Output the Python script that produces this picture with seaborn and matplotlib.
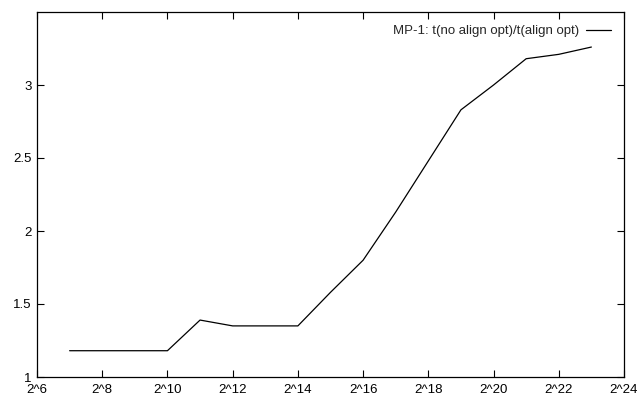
import numpy as np
import pandas as pd
import matplotlib
matplotlib.use("Agg")
import matplotlib.pyplot as plt
import seaborn as sns

# data (x = 2^exponent)
exponents = [7, 8, 9, 10, 11, 12, 13, 14, 15, 16, 17, 18, 19, 20, 21, 22, 23]
ratio = [1.18, 1.18, 1.18, 1.18, 1.39, 1.35, 1.35, 1.35, 1.58, 1.80, 2.13, 2.48, 2.83, 3.00, 3.18, 3.21, 3.26]
xtick_exps = [6, 8, 10, 12, 14, 16, 18, 20, 22, 24]
ytick_vals = [1, 1.5, 2, 2.5, 3]
label = "MP-1: t(no align opt)/t(align opt)"

df = pd.DataFrame({"size": [2.0 ** e for e in exponents], "ratio": ratio})

sns.set_style("ticks")
plt.rcParams["font.family"] = ["Liberation Sans", "DejaVu Sans"]
plt.rcParams["font.size"] = 9.5

fig = plt.figure(figsize=(6.37, 3.96), dpi=100)
ax = fig.add_axes([37 / 637, 19 / 396, 587 / 637, 365 / 396])

sns.lineplot(data=df, x="size", y="ratio", ax=ax, color="black", linewidth=0.9, label=label)

ax.set_xscale("log", base=2)
ax.set_xlim(2.0 ** 6, 2.0 ** 24)
ax.set_ylim(1, 3.5)
ax.set_xticks([2.0 ** e for e in xtick_exps])
ax.set_xticklabels(["2^%d" % e for e in xtick_exps])
ax.xaxis.set_minor_locator(matplotlib.ticker.NullLocator())
ax.set_yticks(ytick_vals)
ax.set_yticklabels(["%g" % v for v in ytick_vals])
ax.tick_params(direction="in", top=True, right=True, length=5, width=0.8, colors="black", labelsize=9.5, pad=4)
ax.tick_params(axis="x", pad=5)
for s in ax.spines.values():
    s.set_linewidth(0.9)
    s.set_color("black")
ax.set_xlabel("")
ax.set_ylabel("")

leg = ax.legend(loc="upper right", frameon=False, markerfirst=False, handlelength=1.9,
                handletextpad=0.5, borderaxespad=0.7, borderpad=0.3, fontsize=9.5)

fig.savefig("out.png", dpi=100)
